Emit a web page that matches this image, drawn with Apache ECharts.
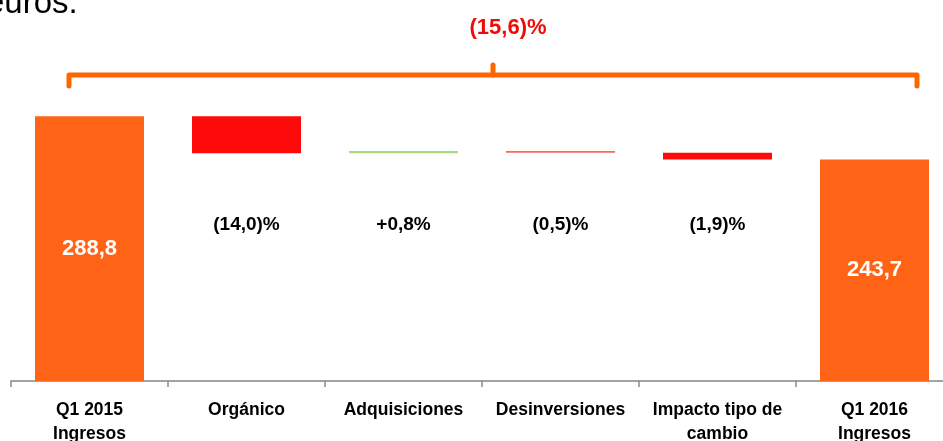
<!DOCTYPE html>
<html>
<head>
<meta charset="utf-8">
<script src="https://cdn.jsdelivr.net/npm/echarts@6/dist/echarts.min.js"></script>
<style>
html,body{margin:0;padding:0;background:#fff;}
#chart{width:943px;height:441px;}
</style>
</head>
<body>
<div id="chart"></div>
<script>
// ---- data ----
const categories = ['Q1 2015\nIngresos', 'Orgánico', 'Adquisiciones', 'Desinversiones', 'Impacto tipo de\ncambio', 'Q1 2016\nIngresos'];
const startValue = 288.8;
const endValue = 243.7;
const changes = [-38.6, 2.5, -1.8, -7.1];
const changeLabels = ['(14,0)%', '+0,8%', '(0,5)%', '(1,9)%'];
const totalLabels = ['288,8', '243,7'];
const overallLabel = '(15,6)%';
const headerText = 'euros.';

// ---- styles ----
const ORANGE = '#FF6316';
const changeColors = ['#FF0A0A', '#A8DA7E', '#FF6262', '#FF0A0A'];
const Y_MIN = 13, Y_MAX = 300;
const PCT_LEVEL = 175.5;
const SANS = '"Liberation Sans", Arial, sans-serif';

// build waterfall
const baseData = [];
const barData = [];
baseData.push(Y_MIN);
barData.push({ value: startValue - Y_MIN, itemStyle: { color: ORANGE }, label: { show: true, formatter: totalLabels[0] } });
let running = startValue;
changes.forEach((d, i) => {
  const lo = d < 0 ? running + d : running;
  baseData.push(lo);
  barData.push({ value: Math.abs(d), itemStyle: { color: changeColors[i] }, label: { show: false } });
  running += d;
});
baseData.push(Y_MIN);
barData.push({ value: endValue - Y_MIN, itemStyle: { color: ORANGE }, label: { show: true, formatter: totalLabels[1] } });

const pctData = changeLabels.map((t, i) => ({ value: [i + 1, PCT_LEVEL], label: { formatter: t } }));

const chart = echarts.init(document.getElementById('chart'));
chart.setOption({
  animation: false,
  grid: { left: 11, width: 942, top: 105.5, height: 275.5, outerBoundsMode: 'none', containLabel: false },
  xAxis: {
    type: 'category',
    data: categories,
    axisLine: { lineStyle: { color: '#A3A3A3', width: 2 } },
    axisTick: { show: true, length: 6, lineStyle: { color: '#8C8C8C', width: 1.5 } },
    axisLabel: {
      interval: 0, margin: 17, color: '#000', fontFamily: SANS, fontWeight: 'bold',
      fontSize: 17.5, lineHeight: 24
    },
    splitLine: { show: false }
  },
  yAxis: { type: 'value', min: Y_MIN, max: Y_MAX, show: false, splitLine: { show: false } },
  series: [
    {
      type: 'bar', stack: 'w', data: baseData, barWidth: 109, clip: true,
      itemStyle: { color: 'rgba(0,0,0,0)' }, emphasis: { disabled: true }, silent: true
    },
    {
      type: 'bar', stack: 'w', data: barData, barWidth: 109, clip: true,
      label: {
        position: 'inside', color: '#fff', fontFamily: SANS, fontWeight: 'bold', fontSize: 22
      }
    },
    {
      type: 'scatter', data: pctData, symbolSize: 0, silent: true,
      itemStyle: { opacity: 1, color: '#000' },
      label: {
        show: true, position: 'inside', color: '#000', opacity: 1, fontFamily: SANS, fontWeight: 'bold', fontSize: 19
      }
    }
  ],
  graphic: [
    {
      type: 'polyline', silent: true,
      shape: { points: [[69, 86], [69, 75], [917, 75], [917, 86]] },
      style: { stroke: '#FF6600', lineWidth: 5, fill: null, lineJoin: 'round', lineCap: 'round' }
    },
    {
      type: 'line', silent: true,
      shape: { x1: 493, y1: 75, x2: 493, y2: 65 },
      style: { stroke: '#FF6600', lineWidth: 5, lineCap: 'round' }
    },
    {
      type: 'text', silent: true, x: 508, y: 28,
      style: { text: overallLabel, fill: '#F00A0A', font: 'bold 22px ' + SANS, textAlign: 'center', textVerticalAlign: 'middle' }
    },
    {
      type: 'text', silent: true, x: -14, y: 20.5,
      style: { text: headerText, fill: '#000', font: '33px ' + SANS, textAlign: 'left', textVerticalAlign: 'bottom' }
    }
  ]
});
</script>
</body>
</html>
